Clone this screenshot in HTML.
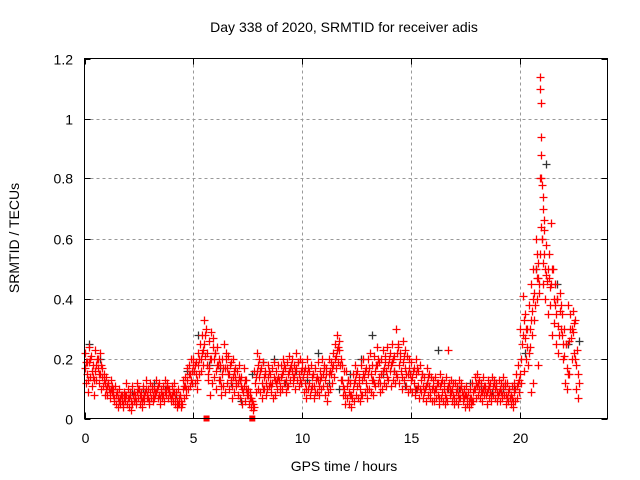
<!DOCTYPE html>
<html><head><meta charset="utf-8"><style>
body{margin:0;background:#fff;}
svg{display:block;font-family:"Liberation Sans",sans-serif;}
</style></head><body>
<svg id="chart" width="640" height="480" viewBox="0 0 640 480">
<rect width="640" height="480" fill="#fff"/>
<text x="344" y="32" text-anchor="middle" font-size="14">Day 338 of 2020, SRMTID for receiver adis</text>
<text x="344" y="471" text-anchor="middle" font-size="14">GPS time / hours</text>
<text transform="translate(19,238) rotate(-90)" text-anchor="middle" font-size="14">SRMTID / TECUs</text>
<g id="grid"></g>
<g id="ticks"></g>
<g id="marks"></g>
<rect x="84.5" y="58.5" width="523" height="360" fill="none" stroke="#000" stroke-width="1"/>
</svg>
<script>
const xTicks=[0,5,10,15,20];
const yTicks=[0,0.2,0.4,0.6,0.8,1,1.2];
const yTickLabels=["0","0.2","0.4","0.6","0.8","1","1.2"];
const redUpper=[.22,.19,.24,.21,.18,.23,.2,.22,.17,.15,
.14,.12,.13,.1,.11,.09,.1,.08,.09,.12,
.1,.09,.11,.08,.12,.1,.09,.11,.13,.1,
.12,.11,.1,.13,.12,.1,.11,.13,.12,.1,
.11,.12,.09,.1,.08,.13,.14,.17,.18,.2,
.2,.19,.22,.25,.28,.33,.22,.26,.29,.27,
.22,.24,.18,.2,.25,.22,.21,.19,.2,.17,
.16,.18,.14,.17,.13,.1,.09,.06,.16,.22,
.2,.17,.19,.16,.18,.15,.17,.19,.16,.18,
.18,.2,.17,.19,.21,.2,.18,.22,.19,.2,
.19,.17,.2,.16,.18,.15,.17,.19,.16,.2,
.18,.17,.2,.19,.22,.25,.28,.23,.18,.16,
.16,.13,.12,.15,.18,.16,.14,.18,.2,.17,
.2,.22,.18,.21,.24,.19,.2,.23,.21,.24,
.22,.25,.21,.3,.24,.22,.26,.23,.21,.2,
.19,.17,.2,.16,.18,.15,.14,.17,.15,.14,
.13,.14,.12,.15,.13,.12,.14,.23,.13,.12,
.12,.11,.13,.12,.1,.11,.09,.1,.12,.14,
.15,.13,.12,.14,.11,.13,.12,.14,.13,.12,
.13,.12,.14,.11,.12,.1,.11,.12,.15,.18,
.3,.41,.35,.3,.38,.45,.5,.6,.52,.8,
.6,.63,.58,.55,.65,.5,.45,.4,.42,.35,
.3,.25,.38,.35,.36,.33,.23];
const redLower=[.12,.09,.14,.11,.08,.13,.15,.1,.11,.08,
.08,.07,.09,.06,.05,.04,.05,.04,.06,.05,
.04,.03,.06,.05,.07,.05,.04,.06,.07,.05,
.07,.06,.08,.07,.05,.07,.06,.08,.07,.06,
.06,.05,.04,.05,.04,.07,.08,.1,.11,.12,
.12,.1,.15,.16,.18,.21,.13,.08,.12,.14,
.1,.13,.08,.11,.09,.12,.1,.07,.09,.11,
.08,.07,.05,.06,.08,.05,.04,.03,.09,.1,
.09,.07,.1,.08,.11,.09,.07,.08,.1,.09,
.1,.12,.09,.11,.13,.12,.1,.13,.11,.12,
.09,.07,.1,.08,.11,.07,.09,.08,.1,.11,
.08,.06,.1,.12,.14,.17,.19,.13,.08,.05,
.07,.05,.04,.06,.08,.07,.06,.08,.09,.07,
.1,.09,.08,.11,.12,.09,.1,.12,.11,.13,
.11,.13,.12,.14,.12,.1,.13,.11,.09,.1,
.09,.08,.1,.07,.09,.07,.06,.08,.07,.06,
.06,.07,.05,.07,.06,.05,.06,.08,.06,.05,
.06,.05,.07,.06,.04,.05,.04,.05,.06,.07,
.08,.07,.06,.08,.05,.07,.06,.08,.07,.06,
.06,.07,.08,.05,.06,.05,.04,.06,.07,.09,
.12,.16,.2,.18,.24,.28,.33,.4,.42,.64,
.45,.4,.35,.38,.28,.32,.25,.22,.3,.2,
.12,.1,.15,.2,.22,.1,.07];
const redMidA=[.17,.15,.19,.16,.13,.18,.17,.15,.14,.12,
.11,.1,.1,.08,.08,.07,.07,.06,.07,.08,
.07,.06,.08,.07,.09,.08,.06,.08,.1,.07,
.09,.08,.09,.1,.08,.09,.08,.1,.1,.08,
.08,.09,.06,.07,.06,.1,.11,.13,.15,.16,
.16,.15,.18,.2,.23,.28,.18,.17,.2,.2,
.16,.18,.13,.15,.17,.17,.15,.13,.14,.14,
.12,.13,.1,.11,.1,.08,.07,.05,.12,.16,
.14,.12,.14,.12,.14,.12,.12,.13,.13,.13,
.14,.16,.13,.15,.17,.16,.14,.17,.15,.16,
.14,.12,.15,.12,.14,.11,.13,.13,.13,.15,
.13,.11,.15,.15,.18,.21,.24,.18,.13,.1,
.11,.09,.08,.1,.13,.11,.1,.13,.14,.12,
.15,.15,.13,.16,.18,.14,.15,.17,.16,.18,
.16,.19,.16,.22,.18,.16,.19,.17,.15,.15,
.14,.12,.15,.11,.13,.11,.1,.12,.11,.1,
.09,.1,.08,.11,.09,.08,.1,.12,.09,.08,
.09,.08,.1,.09,.07,.08,.06,.07,.09,.1,
.11,.1,.09,.11,.08,.1,.09,.11,.1,.09,
.09,.09,.11,.08,.09,.07,.07,.09,.11,.13,
.2,.28,.27,.24,.3,.36,.42,.5,.47,.55,
.52,.5,.46,.47,.45,.4,.35,.31,.36,.28,
.21,.17,.26,.27,.29,.2,.15];
const redMidB=[.19,.13,.2,.14,.16,.2,.12,.18,.13,.1,
.12,.09,.11,.07,.09,.06,.08,.05,.08,.07,
.08,.05,.09,.06,.1,.07,.07,.09,.08,.06,
.1,.07,.09,.11,.07,.08,.09,.11,.09,.07,
.09,.07,.05,.08,.05,.11,.1,.15,.13,.18,
.18,.13,.2,.22,.25,.3,.15,.2,.24,.22,
.18,.2,.11,.17,.2,.15,.18,.11,.16,.12,
.14,.11,.09,.13,.09,.07,.06,.04,.14,.18,
.16,.1,.15,.1,.16,.11,.14,.12,.14,.11,
.15,.18,.11,.16,.18,.14,.16,.19,.13,.17,
.16,.1,.17,.1,.15,.09,.14,.11,.14,.17,
.15,.09,.16,.17,.2,.23,.26,.2,.11,.08,
.13,.08,.07,.12,.15,.12,.08,.15,.16,.1,
.17,.13,.12,.18,.2,.12,.16,.19,.14,.2,
.18,.2,.15,.25,.2,.14,.21,.15,.17,.13,
.16,.1,.17,.1,.15,.09,.11,.14,.09,.11,
.1,.12,.07,.12,.1,.07,.11,.1,.1,.07,
.1,.07,.11,.08,.08,.07,.07,.06,.1,.12,
.12,.09,.1,.1,.09,.11,.08,.12,.11,.08,
.1,.08,.12,.07,.1,.08,.06,.1,.12,.15,
.25,.33,.3,.22,.33,.4,.38,.55,.45,.6,
.55,.48,.5,.44,.5,.38,.4,.28,.38,.25,
.25,.15,.3,.3,.32,.18,.12];
const redStep=0.1;
const peakTimes=[20.9,20.92,20.94,20.95,20.96,20.97,21.0,21.02,21.05,21.08,20.75,20.8,20.6,20.5];
const peakValues=[1.14,1.1,1.05,0.94,0.88,0.8,0.78,0.74,0.7,0.66,0.47,0.18,0.12,0.09];
const blackValues=[.25,.2,.1,.08,.09,.1,.12,.1,.08,.16,.28,.18,.17,.12,.06,.15,.19,.2,.12,.16,.13,.22,.12,.1,.15,.2,.28,.15,.16,.11,.1,.12,.23,.1,.1,.12,.11,.09,.1,.1,.22,.5,.85,.45,.25,.26];
const blackStep=0.5;
const flagTimes=[5.6,7.7];

const X0=84.5,X1=607.5,Y0=418.5,Y1=58.5,XMAX=24,YMAX=1.2;
const sx=v=>X0+(v/XMAX)*(X1-X0);
const sy=v=>Y0-(v/YMAX)*(Y0-Y1);
const NS="http://www.w3.org/2000/svg";
function mk(tag,attrs,parent){const e=document.createElementNS(NS,tag);for(const k in attrs)e.setAttribute(k,attrs[k]);parent.appendChild(e);return e;}
const grid=document.getElementById('grid'),ticks=document.getElementById('ticks'),marks=document.getElementById('marks');
xTicks.forEach(t=>{
  const x=Math.round(sx(t))+0.5;
  if(t>0){const g=mk('line',{x1:x,x2:x,y1:Y1,y2:Y0,stroke:'#999','stroke-dasharray':'3,3'},grid);
  
  }
  mk('line',{x1:x,x2:x,y1:Y0,y2:Y0-6,stroke:'#000'},ticks);
  mk('line',{x1:x,x2:x,y1:Y1,y2:Y1+6,stroke:'#000'},ticks);
  const l=mk('text',{x:x,y:443,'text-anchor':'middle','font-size':14},ticks);
  l.textContent=String(t);
  
  
});
yTicks.forEach((t,i)=>{
  const y=Math.round(sy(t))+0.5;
  if(t>0&&t<YMAX){const g=mk('line',{x1:X0,x2:X1,y1:y,y2:y,stroke:'#999','stroke-dasharray':'3,3'},grid);
  
  }
  mk('line',{x1:X0,x2:X0+6,y1:y,y2:y,stroke:'#000'},ticks);
  mk('line',{x1:X1,x2:X1-6,y1:y,y2:y,stroke:'#000'},ticks);
  const l=mk('text',{x:73,y:y+5,'text-anchor':'end','font-size':14},ticks);
  l.textContent=yTickLabels[i];
  
  
});
function plus(t,v,color,name){
  const x=Math.round(sx(t))+0.5,y=Math.round(sy(v))+0.5;
  const p=mk('path',{d:`M${x-4} ${y}H${x+4}M${x} ${y-4}V${y+4}`,stroke:color,'stroke-width':1.3,fill:'none'},marks);
  
  
}
blackValues.forEach((v,i)=>plus(i*blackStep+0.2,v,'#333','black-point'));
redUpper.forEach((v,i)=>plus(i*redStep,v,'#f00','red-point'));
redMidA.forEach((v,i)=>plus(i*redStep+0.025,v,'#f00','red-point'));
redLower.forEach((v,i)=>plus(i*redStep+0.05,v,'#f00','red-point'));
redMidB.forEach((v,i)=>plus(i*redStep+0.075,v,'#f00','red-point'));
peakTimes.forEach((t,i)=>plus(t,peakValues[i],'#f00','red-peak-point'));
flagTimes.forEach(t=>{
  const r=mk('rect',{x:sx(t)-3,y:Y0-3,width:6,height:6,fill:'#f00'},marks);
  
  
});
</script>
</body></html>
